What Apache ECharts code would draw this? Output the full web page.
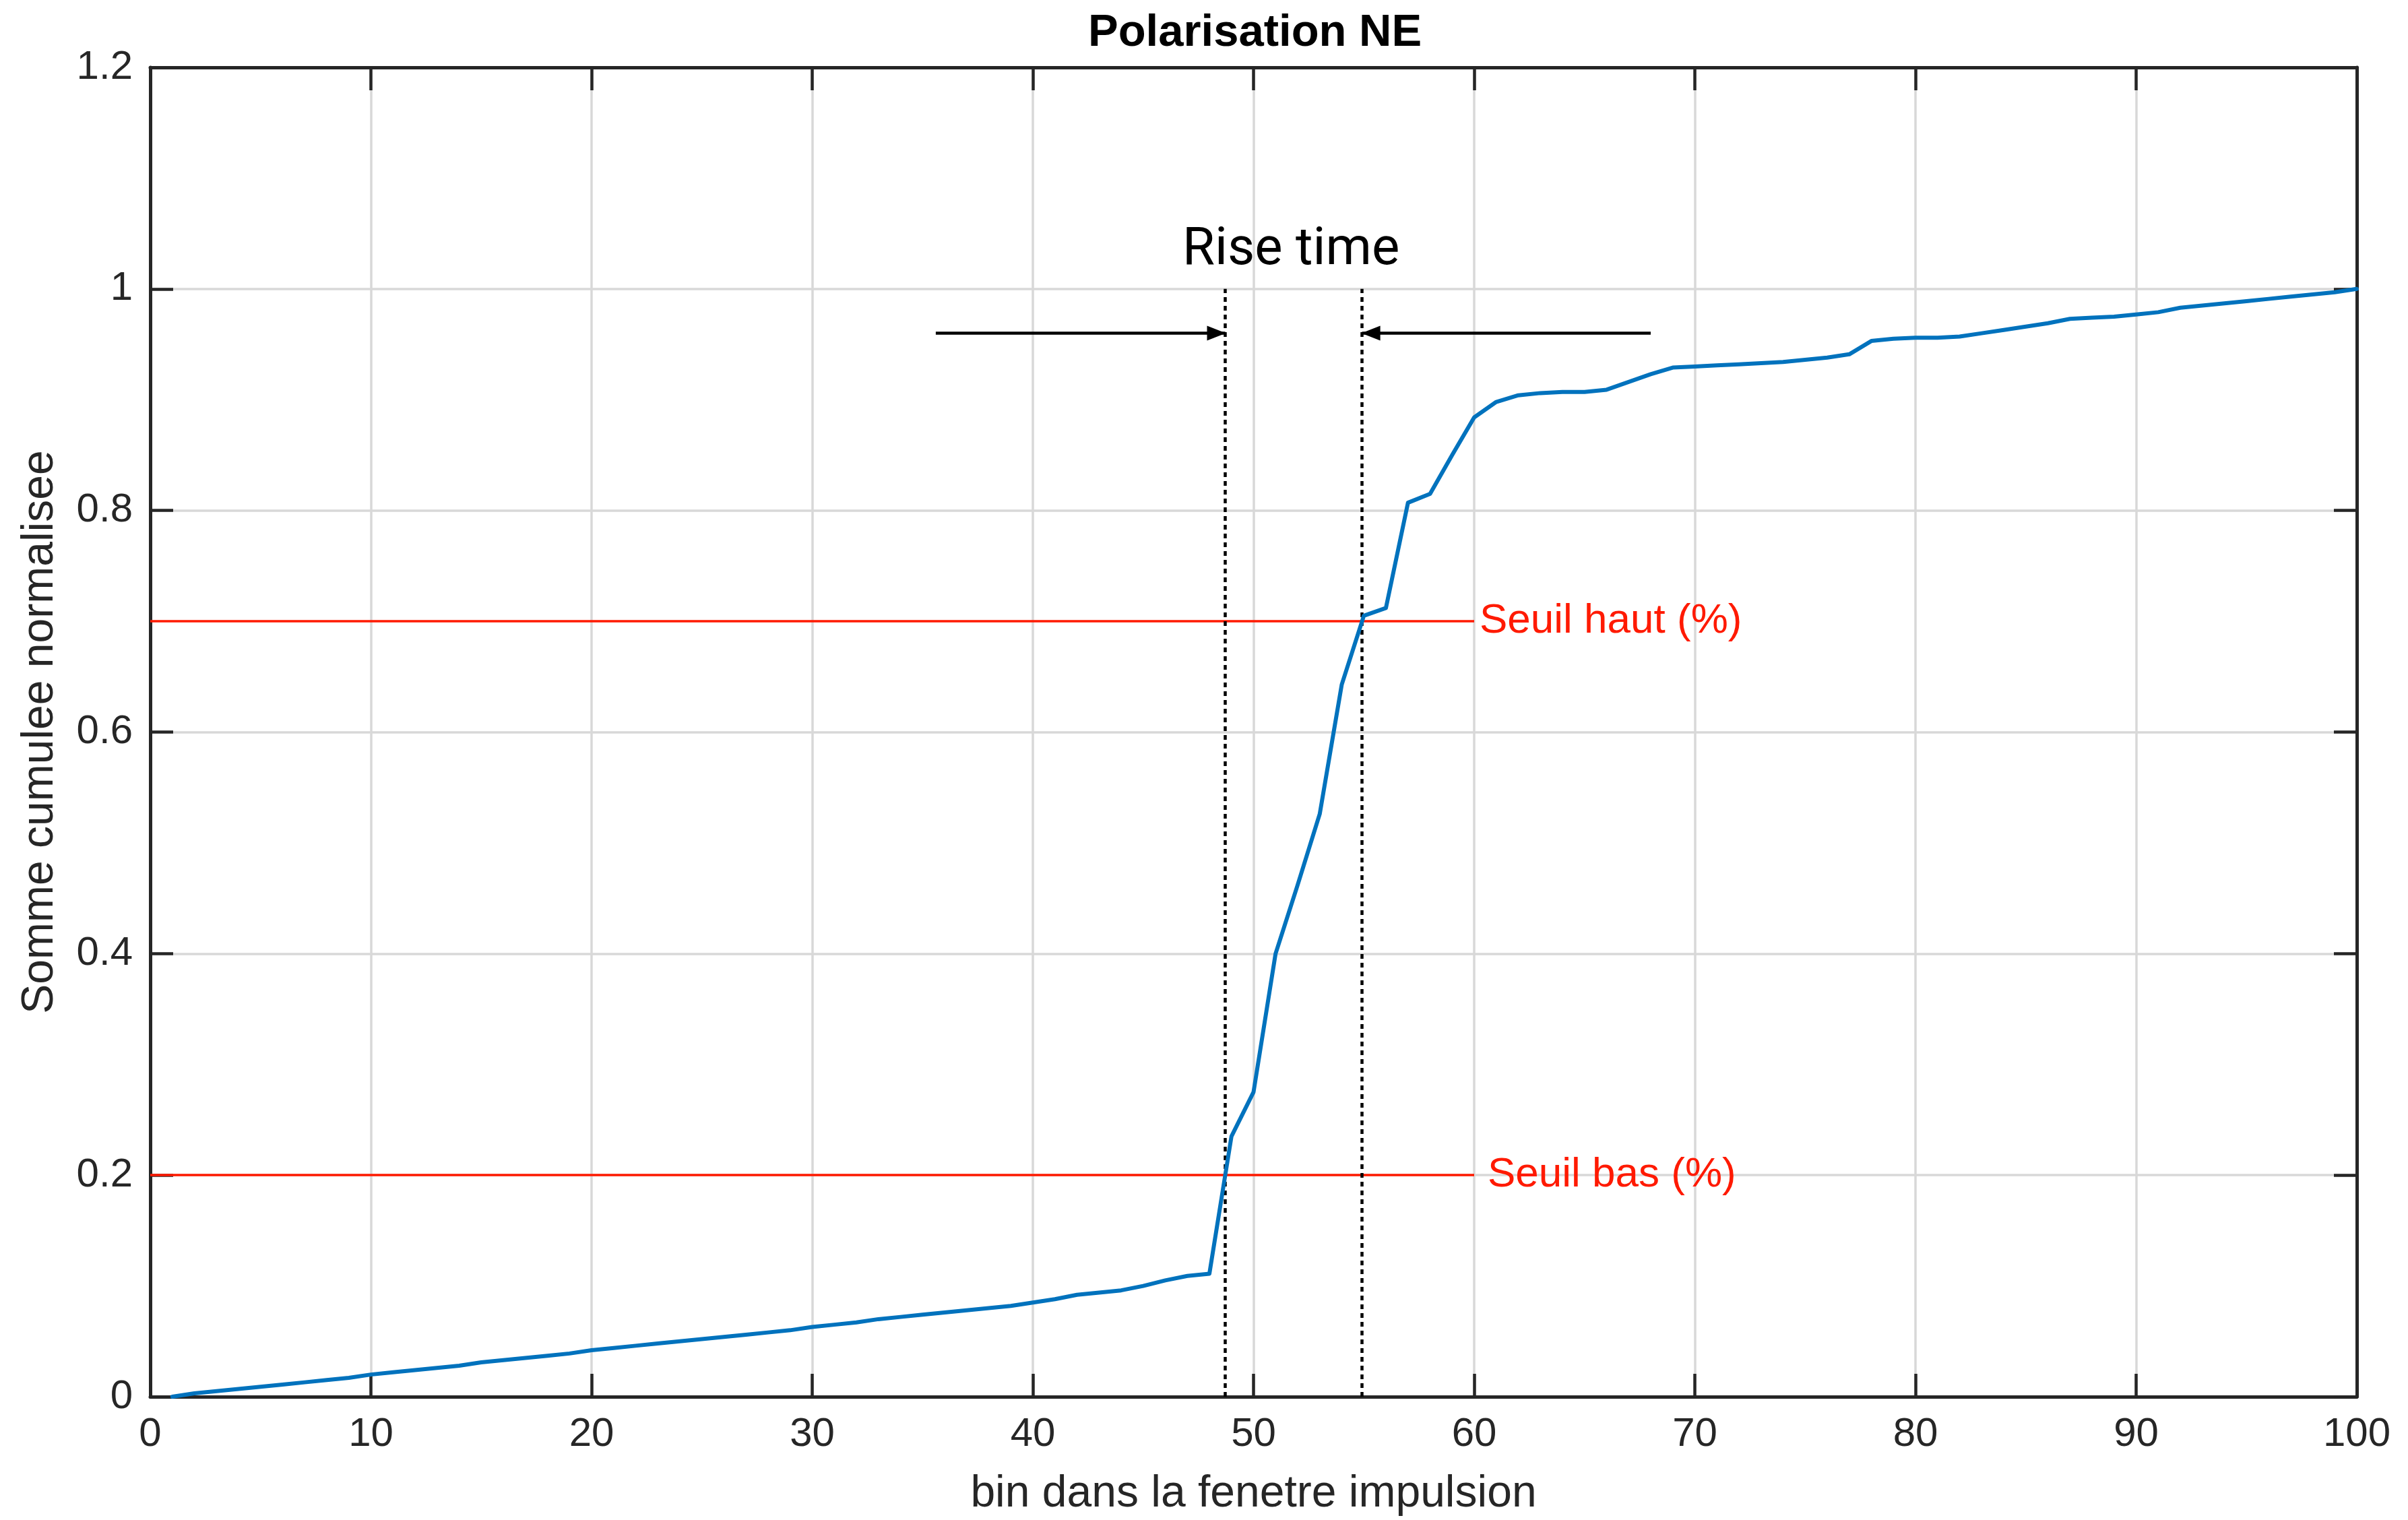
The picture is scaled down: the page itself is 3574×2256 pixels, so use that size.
<!DOCTYPE html>
<html>
<head>
<meta charset="utf-8">
<title>Polarisation NE</title>
<script src="https://cdn.jsdelivr.net/npm/echarts@6/dist/echarts.min.js"></script>
<style>
  html, body { margin: 0; padding: 0; background: #ffffff; }
  #chart { width: 3574px; height: 2256px; }
</style>
</head>
<body>
<div id="chart"></div>
<script>
// Normalised cumulative sum for bins 1..100 of the pulse window
const cumulative = [
  0.000, 0.003, 0.005, 0.007, 0.009, 0.011, 0.013, 0.015, 0.017, 0.020,
  0.022, 0.024, 0.026, 0.028, 0.031, 0.033, 0.035, 0.037, 0.039, 0.042,
  0.044, 0.046, 0.048, 0.050, 0.052, 0.054, 0.056, 0.058, 0.060, 0.063,
  0.065, 0.067, 0.070, 0.072, 0.074, 0.076, 0.078, 0.080, 0.082, 0.085,
  0.088, 0.092, 0.094, 0.096, 0.100, 0.105, 0.109, 0.111, 0.235, 0.275,
  0.400, 0.462, 0.526, 0.643, 0.705, 0.712, 0.807, 0.815, 0.850, 0.884,
  0.898, 0.904, 0.906, 0.907, 0.907, 0.909, 0.916, 0.923, 0.929, 0.930,
  0.931, 0.932, 0.933, 0.934, 0.936, 0.938, 0.941, 0.953, 0.955, 0.956,
  0.956, 0.957, 0.960, 0.963, 0.966, 0.969, 0.973, 0.974, 0.975, 0.977,
  0.979, 0.983, 0.985, 0.987, 0.989, 0.991, 0.993, 0.995, 0.997, 1.000
];

// Threshold levels (fraction of the total) and how far their lines run
const seuilHaut = 0.7;
const seuilBas = 0.2;
const seuilLineEnd = 60;

// Horizontal arrows framing the rise time
const arrowLevel = 0.96;
const arrowLeftStart = 35.6;
const arrowRightStart = 68;
const riseLabelPos = [51.7, 1.034];

const xTicks = { min: 0, max: 100, interval: 10 };
const yTicks = { min: 0, max: 1.2, interval: 0.2 };

const points = cumulative.map((v, i) => [i + 1, v]);

// First bin position where the cumulative curve reaches a level (linear interpolation)
function crossing(level) {
  for (let i = 1; i < points.length; i++) {
    const [x0, y0] = points[i - 1];
    const [x1, y1] = points[i];
    if (y0 < level && y1 >= level) {
      return x0 + (level - y0) / (y1 - y0) * (x1 - x0);
    }
  }
  return null;
}
const tLow = crossing(seuilBas);
const tHigh = crossing(seuilHaut);

const ink = '#262626';
const gridGrey = '#d8d8d8';
const red = '#ff1a00';
const font = 'Liberation Sans, Arial, Helvetica, sans-serif';

const chart = echarts.init(document.getElementById('chart'), null, { renderer: 'canvas' });

const boxAxis = (extra) => Object.assign({
  type: 'value',
  axisLine: { show: true, onZero: false, lineStyle: { color: ink, width: 5 } },
  axisTick: { show: true, inside: true, length: 34, lineStyle: { color: ink, width: 4.5 } },
  splitLine: { show: false },
  axisLabel: { show: false }
}, extra);

const redLabel = (text, dist) => ({
  show: true, position: 'end', distance: dist, formatter: text,
  color: red, fontSize: 62, fontFamily: font
});

chart.setOption({
  animation: false,
  backgroundColor: '#ffffff',
  title: {
    text: 'Polarisation NE',
    left: 1610,
    top: 11,
    textStyle: { fontFamily: font, fontWeight: 'bold', fontSize: 67, color: '#000000' }
  },
  grid: { left: 223, right: 76, top: 100, bottom: 182, containLabel: false },
  xAxis: [
    boxAxis({
      position: 'bottom',
      min: xTicks.min, max: xTicks.max, interval: xTicks.interval,
      name: 'bin dans la fenetre impulsion',
      nameLocation: 'middle', nameGap: 112,
      nameTextStyle: { color: ink, fontSize: 66, fontFamily: font },
      axisLabel: { show: true, color: ink, fontSize: 60, fontFamily: font, margin: 26 },
      splitLine: { show: true, lineStyle: { color: gridGrey, width: 3.5 } }
    }),
    boxAxis({ position: 'top', min: xTicks.min, max: xTicks.max, interval: xTicks.interval })
  ],
  yAxis: [
    boxAxis({
      position: 'left',
      min: yTicks.min, max: yTicks.max, interval: yTicks.interval,
      name: 'Somme cumulee normalisee',
      nameLocation: 'middle', nameGap: 130,
      nameTextStyle: { color: ink, fontSize: 66, fontFamily: font },
      axisLabel: { show: true, color: ink, fontSize: 60, fontFamily: font, margin: 26 },
      splitLine: { show: true, lineStyle: { color: gridGrey, width: 3.5 } }
    }),
    boxAxis({ position: 'right', min: yTicks.min, max: yTicks.max, interval: yTicks.interval })
  ],
  series: [
    {
      name: 'cumul',
      type: 'line',
      data: points,
      showSymbol: false,
      symbol: 'none',
      lineStyle: { color: '#0072BD', width: 6, join: 'round', cap: 'round' },
      z: 5,
      markLine: {
        silent: true,
        symbol: 'none',
        animation: false,
        label: { show: false },
        data: [
          // threshold lines
          [
            { coord: [0, seuilHaut], lineStyle: { color: red, width: 3.5, type: 'solid' }, label: redLabel('Seuil haut (%)', 8) },
            { coord: [seuilLineEnd, seuilHaut] }
          ],
          [
            { coord: [0, seuilBas], lineStyle: { color: red, width: 3.5, type: 'solid' }, label: redLabel('Seuil bas (%)', 20) },
            { coord: [seuilLineEnd, seuilBas] }
          ],
          // rise-time bounds
          [
            { coord: [tLow, 0], lineStyle: { color: '#000000', width: 4.5, type: [7, 6] } },
            { coord: [tLow, 1] }
          ],
          [
            { coord: [tHigh, 0], lineStyle: { color: '#000000', width: 4.5, type: [7, 6] } },
            { coord: [tHigh, 1] }
          ],
          // arrows pointing at the bounds
          [
            { coord: [arrowLeftStart, arrowLevel], symbol: 'none', lineStyle: { color: '#000000', width: 4.5, type: 'solid' } },
            { coord: [tLow, arrowLevel], symbol: 'triangle', symbolSize: [22, 28], symbolOffset: [0, 13] }
          ],
          [
            { coord: [arrowRightStart, arrowLevel], symbol: 'none', lineStyle: { color: '#000000', width: 4.5, type: 'solid' } },
            { coord: [tHigh, arrowLevel], symbol: 'triangle', symbolSize: [22, 28], symbolOffset: [0, 13] }
          ]
        ]
      },
      markPoint: {
        silent: true,
        animation: false,
        symbol: 'circle',
        symbolSize: 1,
        itemStyle: { color: 'rgba(0,0,0,0)' },
        data: [
          {
            coord: riseLabelPos,
            label: {
              show: true, position: 'inside', formatter: 'Rise time',
              color: '#000000', fontSize: 78, fontFamily: 'Roboto, Liberation Sans, sans-serif'
            }
          }
        ]
      }
    }
  ]
});
</script>
</body>
</html>
